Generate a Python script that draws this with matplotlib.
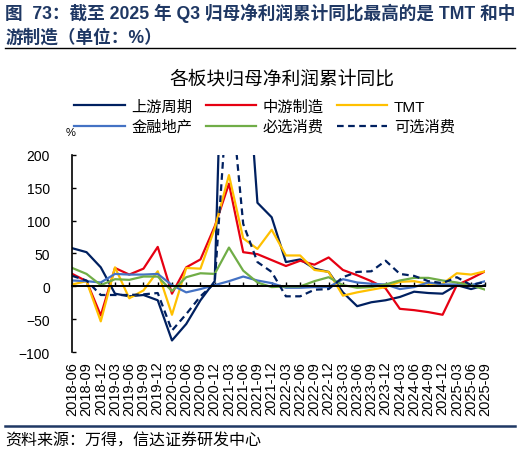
import numpy as np
import matplotlib
matplotlib.use('Agg')
import matplotlib.pyplot as plt

plt.rcParams['font.family'] = ['Liberation Sans', 'Noto Sans CJK SC']
plt.rcParams['axes.unicode_minus'] = True

# quarterly report dates
dates = ['2018-06', '2018-09', '2018-12', '2019-03', '2019-06', '2019-09', '2019-12',
         '2020-03', '2020-06', '2020-09', '2020-12', '2021-03', '2021-06', '2021-09',
         '2021-12', '2022-03', '2022-06', '2022-09', '2022-12', '2023-03', '2023-06',
         '2023-09', '2023-12', '2024-03', '2024-06', '2024-09', '2024-12', '2025-03',
         '2025-06', '2025-09']

# cumulative YoY growth of net profit attributable to parent (%)
upstream = [58, 52, 29, -11, -15, -13, -21, -82, -57, -21, 8, 740, 425, 127, 105,
            37, 41, 27, 22, -9, -30, -24, -21, -16, -8, -10, -11, 2, -4, 2]
midstream = [19, 8, -44, 28, 18, 27, 60, -11, 29, 41, 91, 156, 52, 49, 40,
             31, 39, 33, 44, 25, 17, 8, -3, -34, -36, -39, -43, 2, 12, 23]
tmt = [3, 8, -53, 29, -18, -6, 23, -43, 28, 27, 88, 169, 73, 57, 86,
       47, 47, 25, 22, -14, -9, -5, -1, 7, 8, 4, 4, 20, 18, 23]
finance = [9, 8, 6, 19, 18, 18, 19, 2, -9, -4, 2, 8, 15, 9, 5,
           -2, -2, -1, -1, 11, 6, 4, 3, -4, -1, 6, 3, 3, 2, 8]
staples = [28, 19, 2, 11, 10, 15, 15, -7, 14, 20, 19, 59, 24, 6, -1,
           0, 0, 8, 14, 2, -2, -1, 3, 9, 13, 13, 9, 6, 2, -5]
discretionary = [16, 9, -13, -13, -13, -12, -10, -67, -42, -15, 5, 325, 95, 37, 22,
                 -15, -15, -5, -4, 14, 22, 23, 39, 19, 16, 8, 5, 14, 2, 7]

series = [('上游周期', upstream, '#002060', '-'),
          ('中游制造', midstream, '#E60012', '-'),
          ('TMT', tmt, '#FFC000', '-'),
          ('金融地产', finance, '#4472C4', '-'),
          ('必选消费', staples, '#70AD47', '-'),
          ('可选消费', discretionary, '#002060', '--')]

fig = plt.figure(figsize=(5.2, 4.56), dpi=100)
ax = fig.add_axes([0.139, 0.2252, 0.7943, 0.4334])

x = np.arange(len(dates))
handles = []
for name, vals, color, ls in series:
    if ls == '--':
        h, = ax.plot(x, vals, color=color, lw=1.6, ls='--', dashes=(3, 2), label=name)
    else:
        h, = ax.plot(x, vals, color=color, lw=1.6, label=name)
    handles.append(h)

ax.set_ylim(-100, 200)
ax.set_xlim(0, 29)
ax.set_yticks(np.arange(-100, 201, 50))

for s in ['top', 'right']:
    ax.spines[s].set_visible(False)
ax.spines['bottom'].set_position(('data', 0))
ax.spines['bottom'].set_linewidth(1.4)
ax.spines['left'].set_linewidth(1.2)

ax.set_xticks(x)
ax.set_xticklabels(dates)
ax.tick_params(axis='x', direction='in', length=3, width=1, pad=53.5, labelsize=10.5,
               labelrotation=90)
ax.tick_params(axis='y', direction='in', length=3, width=1, pad=16, labelsize=10)

# legend, filled row by row
order = [0, 3, 1, 4, 2, 5]
fig.legend([handles[i] for i in order], [series[i][0] for i in order], ncol=3,
           loc='center', bbox_to_anchor=(0.509, 0.742), frameon=False, fontsize=11,
           handlelength=3.3, handletextpad=0.45, columnspacing=0.85,
           labelspacing=0.38)

fig.text(0.135, 0.708, '%', fontsize=8, ha='center', va='center')
fig.text(0.542, 0.826, '各板块归母净利润累计同比', fontsize=13.5, ha='center', va='center')

# report header and footer
fig.text(0.01, 0.971, '图  73：截至 2025 年 Q3 归母净利润累计同比最高的是 TMT 和中',
         fontsize=12.7, fontweight='bold', color='#1F3864', ha='left', va='center')
fig.text(0.01, 0.917, '游制造（单位：%）',
         fontsize=12.7, fontweight='bold', color='#1F3864', ha='left', va='center')
fig.add_artist(plt.Line2D([0.01, 0.99], [0.893, 0.893], color='black', lw=1))
fig.add_artist(plt.Line2D([0.01, 0.99], [0.064, 0.064], color='#1F3864', lw=1.8))
fig.text(0.01, 0.033, '资料来源：万得，信达证券研发中心', fontsize=11.5,
         ha='left', va='center')

fig.savefig('out.png', dpi=100)
